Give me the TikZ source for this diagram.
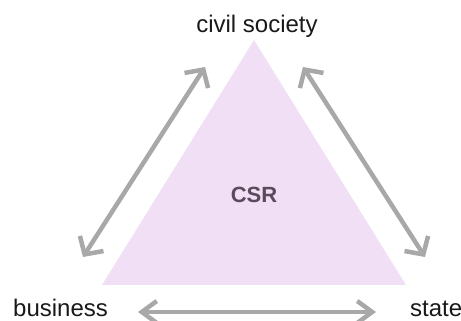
\documentclass[tikz,border=0pt]{standalone}
\usepackage{fontspec}
\setmainfont{Liberation Sans}
\usetikzlibrary{arrows.meta}
\definecolor{trifill}{HTML}{F0DFF5}
\definecolor{arrowgray}{HTML}{A8A8A8}
\definecolor{csrtext}{HTML}{5A4A5C}
\begin{document}
\begin{tikzpicture}[x=1pt,y=1pt,
  lbl/.style={font=\fontsize{24}{24}\selectfont, text=black!90, inner sep=0pt, anchor=base},
  rel/.style={draw=arrowgray, line width=4.5pt,
    {Straight Barb[length=13pt,width=28pt]}-{Straight Barb[length=13pt,width=28pt]}},
  relh/.style={draw=arrowgray, line width=4.5pt,
    {Straight Barb[length=15pt,width=22pt]}-{Straight Barb[length=15pt,width=22pt]}}]
\useasboundingbox (0,0) rectangle (461,321);
\coordinate (apex) at (254,281);
\coordinate (bl) at (102,36);
\coordinate (br) at (406,36);
\fill[trifill] (apex) -- (bl) -- (br) -- cycle;
\node[font=\bfseries\fontsize{22}{22}\selectfont, text=csrtext, inner sep=0pt, anchor=base] (csr) at (254,118) {CSR};
\node[lbl] (cs) at (257,288) {civil society};
\node[lbl, anchor=base west] (bus) at (13,4) {business};
\node[lbl, anchor=base west] (st) at (410,4) {state};
\coordinate (l1) at (83,64);
\coordinate (l2) at (205,254);
\coordinate (r1) at (303,254);
\coordinate (r2) at (425,64);
\coordinate (b1) at (138,9);
\coordinate (b2) at (376,9);
\draw[rel] (l1) -- (l2);
\draw[rel] (r1) -- (r2);
\draw[relh] (b1) -- (b2);
\end{tikzpicture}
\end{document}
